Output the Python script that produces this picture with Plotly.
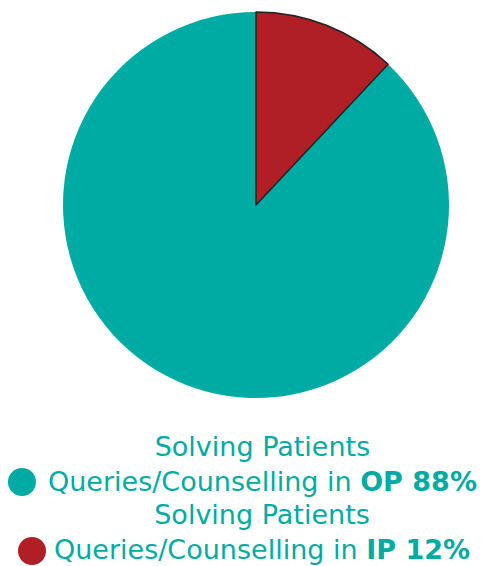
import plotly.graph_objects as go

labels = ["Solving Patients Queries/Counselling in OP", "Solving Patients Queries/Counselling in IP"]
short = ["OP", "IP"]
values = [88, 12]
colors = ["#00ABA3", "#B01F26"]
line_widths = [0, 1.5]

TEAL = "#00ABA3"
FONT = "DejaVu Sans"

fig = go.Figure()
fig.add_trace(go.Pie(
    labels=labels, values=values, sort=False, direction="clockwise",
    rotation=values[1] / sum(values) * 360,
    marker=dict(colors=colors, line=dict(color="#222222", width=line_widths)),
    textinfo="none", hoverinfo="label+percent", showlegend=False,
    domain=dict(x=[28/484, 1.0], y=[1-398/566, 1-12/566]),
))

ys = [464, 532]
circ = [(22, 482), (32, 551)]
for i in range(len(labels)):
    fig.add_annotation(
        x=262/484, y=1-ys[i]/566, xref="paper", yref="paper",
        xanchor="center", yanchor="middle", align="center", showarrow=False,
        text=f"Solving Patients<br>Queries/Counselling in <b>{short[i]} {values[i]}%</b>",
        font=dict(family=FONT, size=27, color=TEAL),
    )
    cx, cy = circ[i]
    fig.add_shape(type="circle", xref="paper", yref="paper",
                  x0=(cx-14)/484, x1=(cx+14)/484,
                  y0=1-(cy+14)/566, y1=1-(cy-14)/566,
                  fillcolor=colors[i], line=dict(width=0))

fig.update_layout(width=484, height=566, margin=dict(l=0, r=0, t=0, b=0),
                  paper_bgcolor="white", plot_bgcolor="white")
fig.write_html("out.html")
